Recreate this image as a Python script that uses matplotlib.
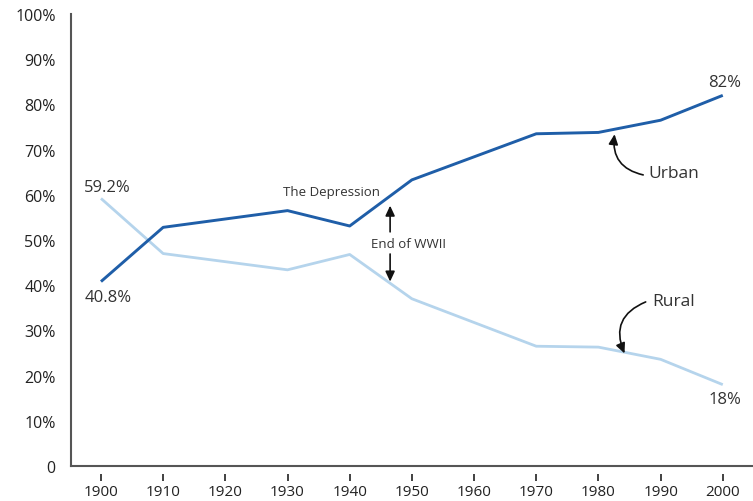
import matplotlib
matplotlib.use("Agg")
import matplotlib.pyplot as plt

years = [1900, 1910, 1930, 1940, 1950, 1970, 1980, 1990, 2000]
urban = [40.8, 52.8, 56.5, 53.1, 63.3, 73.5, 73.8, 76.5, 82.0]
rural = [59.2, 47.0, 43.4, 46.8, 37.0, 26.5, 26.3, 23.6, 18.0]
xticks = list(range(1900, 2001, 10))
yticks = list(range(0, 101, 10))
ylabels = ["0"] + [f"{v}%" for v in yticks[1:]]

plt.rcParams['font.family'] = ['Open Sans', 'DejaVu Sans']

fig = plt.figure(figsize=(7.53, 5.02), dpi=100)
ax = fig.add_axes([71/753, 35/502, (752-71)/753, 452/502])

ax.plot(years, rural, color='#b5d4ec', lw=2.0, solid_capstyle='butt', zorder=2)
ax.plot(years, urban, color='#1f5ea8', lw=2.1, solid_capstyle='butt', zorder=3)

ax.set_xlim(1895.18, 2004.7)
ax.set_ylim(0, 100)

for s in ['top', 'right']:
    ax.spines[s].set_visible(False)
for s in ['left', 'bottom']:
    ax.spines[s].set_color('#555555')
    ax.spines[s].set_linewidth(1.5)

ax.set_yticks(yticks)
ax.set_yticklabels(ylabels)
ax.tick_params(axis='y', length=0, pad=11, labelsize=11.5, labelcolor='#222222')
ax.set_yticks(list(range(20, 101, 20)), minor=True)
ax.tick_params(axis='y', which='minor', length=7, width=1.3, color='#333333', direction='out')

ax.set_xticks([])
sec = ax.secondary_xaxis(-0.033)
sec.set_xticks(xticks)
sec.spines['bottom'].set_visible(False)
sec.tick_params(axis='x', direction='in', length=5, width=1.3, color='#333333', pad=2,
                labelsize=11, labelcolor='#222222')

tc = '#333333'
ax.text(1901.1, 61.7, "59.2%", ha='center', va='center', fontsize=12, color=tc)
ax.text(1901.1, 37.4, "40.8%", ha='center', va='center', fontsize=12, color=tc)
ax.text(2000.3, 85.0, "82%", ha='center', va='center', fontsize=12, color=tc)
ax.text(2000.4, 14.8, "18%", ha='center', va='center', fontsize=12, color=tc)

ax.text(1929.3, 60.8, "The Depression", ha='left', va='center', fontsize=9.5, color=tc)
ax.text(1949.4, 49.2, "End of WWII", ha='center', va='center', fontsize=9.5, color=tc)

arrowkw = dict(arrowstyle='-|>,head_length=0.6,head_width=0.28', color='#111111', lw=1.2,
               shrinkA=0, shrinkB=0)
ax.annotate("", xy=(1946.5, 57.6), xytext=(1946.5, 51.8), arrowprops=arrowkw)
ax.annotate("", xy=(1946.5, 40.8), xytext=(1946.5, 46.9), arrowprops=arrowkw)

ax.text(1988.1, 64.8, "Urban", ha='left', va='center', fontsize=12.5, color=tc)
ax.annotate("", xy=(1982.6, 73.4), xytext=(1987.2, 64.4),
            arrowprops=dict(connectionstyle='arc3,rad=-0.45', **arrowkw))
ax.text(1988.7, 36.6, "Rural", ha='left', va='center', fontsize=12.5, color=tc)
ax.annotate("", xy=(1984.2, 24.9), xytext=(1987.6, 36.3),
            arrowprops=dict(connectionstyle='arc3,rad=0.5', **arrowkw))

fig.savefig("out.png", dpi=100)
